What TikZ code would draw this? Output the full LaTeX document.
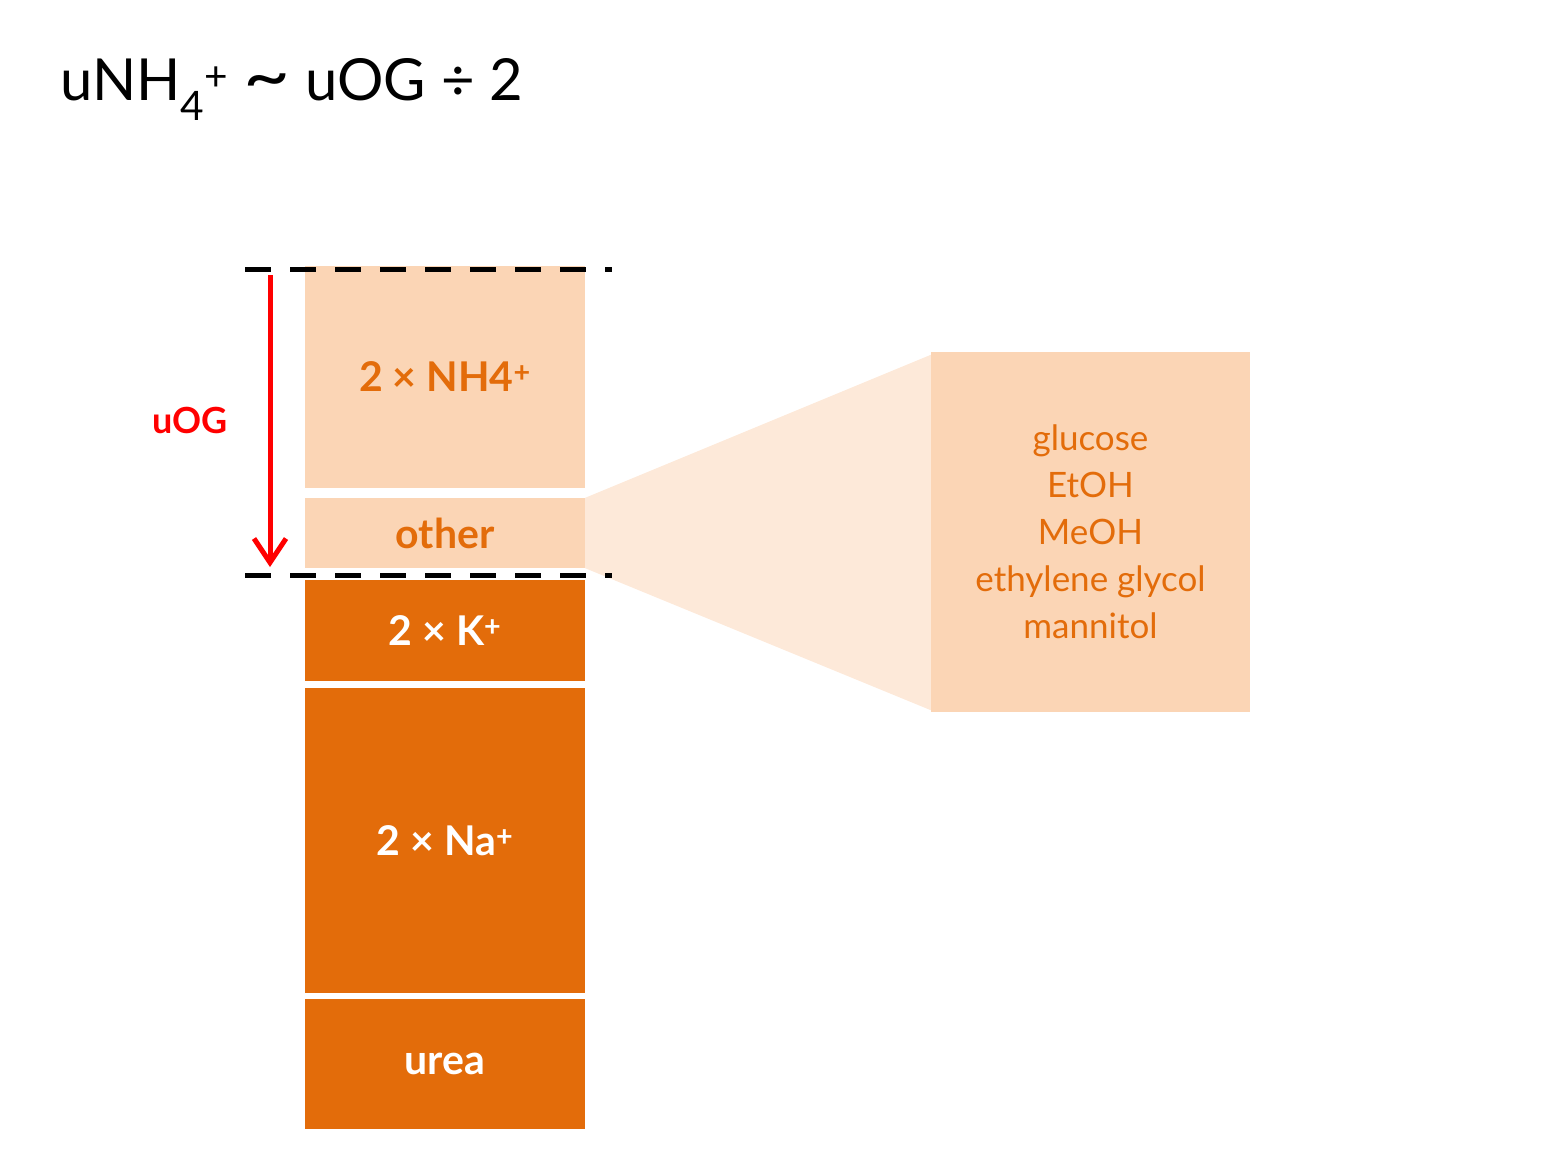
\documentclass[tikz,border=0pt]{standalone}
\usepackage{fontspec}
\setmainfont{Lato}
\usetikzlibrary{arrows.meta,positioning,backgrounds}
\definecolor{pale}{HTML}{FBD5B5}
\definecolor{rust}{HTML}{E36C0A}
\definecolor{fanlight}{HTML}{FDE9D9}

\begin{document}
\begin{tikzpicture}[x=1pt,y=-1pt,
    bar/.style={minimum width=280pt,inner sep=0pt,font=\fontsize{41}{48}\selectfont\bfseries},
    lightbar/.style={bar,fill=pale,text=rust},
    darkbar/.style={bar,fill=rust,text=white},
    cutline/.style={line width=5pt,dash pattern=on 26pt off 19pt}]
    \useasboundingbox (0,0) rectangle (1557,1168);

    % title
    \node[anchor=base west,inner sep=0pt,font=\fontsize{58}{64}\selectfont] (title) at (60,100)
        {uNH\textsubscript{4}\textsuperscript{+} \scalebox{1.4}[1.2]{\textasciitilde} uOG ÷ 2};

    % stacked column
    \node[lightbar,minimum height=222pt] (nh) at (445,377) {2 × NH4\textsuperscript{+}};
    \node[lightbar,minimum height=70pt] (other) at (445,533) {other};
    \node[darkbar,minimum height=101pt] (k) at (445,630.5) {2 × K\textsuperscript{+}};
    \node[darkbar,minimum height=305pt] (na) at (445,840.5) {2 × Na\textsuperscript{+}};
    \node[darkbar,minimum height=130pt] (urea) at (445,1064) {urea};

    % breakdown of other
    \node[fill=pale,text=rust,minimum width=319pt,minimum height=360pt,inner sep=0pt,align=center,
        font=\fontsize{35}{47}\selectfont] (list) at (1090.5,532)
        {glucose\\EtOH\\MeOH\\ethylene glycol\\mannitol};
    \begin{scope}[on background layer]
        \fill[fanlight] (other.north east) -- ([yshift=-3pt]list.north west)
            -- ([yshift=2pt]list.south west) -- (other.south east) -- cycle;
    \end{scope}

    % osmolal gap bounds
    \coordinate (top west) at (245,269);
    \coordinate (top east) at (612,269);
    \coordinate (bot west) at (245,575);
    \coordinate (bot east) at (612,575);
    \draw[cutline] (top west) -- (top east);
    \draw[cutline] (bot west) -- (bot east);

    \coordinate (og top) at (270,275);
    \coordinate (og bot) at (270,567);
    \draw[red,line width=5pt,-{Straight Barb[length=24pt,width=32pt]}] (og top) -- (og bot);
    \node[text=red,font=\fontsize{36}{42}\selectfont\bfseries] (oglabel) at (190,420) {uOG};
\end{tikzpicture}
\end{document}
